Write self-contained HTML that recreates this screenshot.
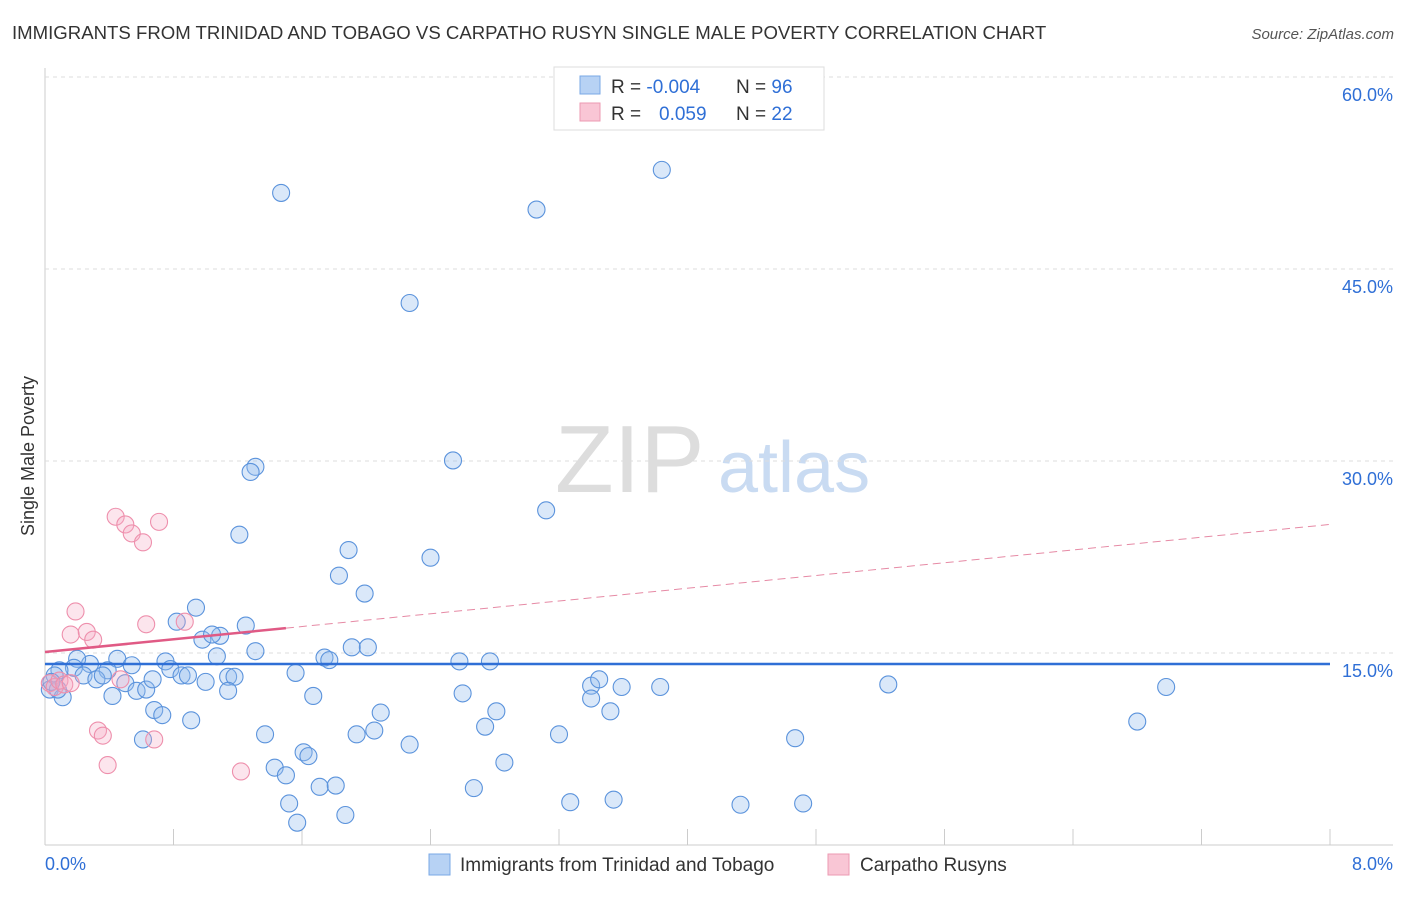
<!DOCTYPE html>
<html><head><meta charset="utf-8"><style>
body{margin:0;background:#fff;font-family:"Liberation Sans",sans-serif}
svg text{font-family:"Liberation Sans",sans-serif}
</style></head><body>
<svg id="c" width="1406" height="892">
<text x="12" y="39" font-size="18.6" fill="#333">IMMIGRANTS FROM TRINIDAD AND TOBAGO VS CARPATHO RUSYN SINGLE MALE POVERTY CORRELATION CHART</text>
<text x="1394" y="39" font-size="15" fill="#555" text-anchor="end" font-style="italic">Source: ZipAtlas.com</text>
<text x="34" y="456" font-size="18" fill="#333" text-anchor="middle" transform="rotate(-90 34 456)">Single Male Poverty</text>
<text x="555" y="492" font-size="96" fill="#ddd" font-family="Liberation Serif">ZIP</text>
<text x="718" y="492" font-size="72" fill="#c9dbf2">atlas</text>
<g id="grid"></g><g id="marks"></g>
<g>
<rect x="554" y="67" width="270" height="63" fill="#fff" stroke="#ddd"/>
<rect x="580" y="76" width="20" height="18" fill="#b7d2f4" stroke="#7aa8e6"/>
<rect x="580" y="103" width="20" height="18" fill="#f9c6d5" stroke="#ec9ab2"/>
<text x="611" y="93" font-size="19" fill="#333">R = <tspan fill="#2f6fd6">-0.004</tspan></text>
<text x="736" y="93" font-size="19" fill="#333">N = <tspan fill="#2f6fd6">96</tspan></text>
<text x="611" y="120" font-size="19" fill="#333">R = <tspan fill="#2f6fd6" x="659">0.059</tspan></text>
<text x="736" y="120" font-size="19" fill="#333">N = <tspan fill="#2f6fd6">22</tspan></text>
</g>
<g>
<rect x="429" y="854" width="21" height="21" fill="#b7d2f4" stroke="#7aa8e6"/>
<text x="460" y="871" font-size="19" fill="#333">Immigrants from Trinidad and Tobago</text>
<rect x="828" y="854" width="21" height="21" fill="#f9c6d5" stroke="#ec9ab2"/>
<text x="860" y="871" font-size="19" fill="#333">Carpatho Rusyns</text>
</g>
<text x="45" y="870" font-size="18" fill="#2f6fd6">0.0%</text>
<text x="1393" y="870" font-size="18" fill="#2f6fd6" text-anchor="end">8.0%</text>
</svg>
<script>
const yTicks=[15,30,45,60];
const yTickLabels=["15.0%","30.0%","45.0%","60.0%"];
const blueX=[1.47,3.06,3.84,2.27,2.54,3.12,1.31,1.28,1.21,2.40,1.89,1.83,1.99,0.94,0.82,1.25,0.98,1.09,1.04,1.31,1.07,1.91,2.01,1.74,1.77,2.58,2.77,1.56,0.75,0.78,0.45,0.54,0.39,0.28,0.20,0.18,0.09,0.06,0.03,0.11,0.24,0.32,0.36,0.50,0.57,0.63,0.67,0.85,0.89,1.00,1.14,1.18,1.14,0.42,0.68,0.73,0.91,0.61,1.37,1.67,2.09,1.94,2.05,2.27,2.60,2.81,2.74,2.86,3.20,3.40,3.45,3.59,3.40,3.52,3.83,5.25,6.98,6.80,4.67,1.61,1.64,1.43,1.50,1.71,1.81,2.67,1.52,1.57,1.87,3.27,3.54,4.33,4.72,0.08,0.04];
const blueY=[51.1,49.8,52.9,42.5,30.2,26.3,29.7,29.3,24.4,22.6,23.2,21.2,19.8,18.7,17.6,17.3,16.2,16.5,16.6,15.3,14.9,15.6,15.6,14.8,14.6,14.5,14.5,13.6,14.5,13.9,14.7,14.2,13.8,14.3,14.7,14.0,13.8,13.4,12.3,11.7,13.4,13.1,13.4,12.8,12.2,12.3,13.1,13.4,13.4,12.9,13.3,13.3,12.2,11.8,10.7,10.3,9.9,8.4,8.8,11.8,10.5,8.8,9.1,8.0,12.0,10.6,9.4,6.6,8.8,12.6,13.1,12.5,11.6,10.6,12.5,12.7,12.5,9.8,8.5,7.4,7.1,6.2,5.6,4.7,4.8,4.6,3.4,1.9,2.5,3.5,3.7,3.3,3.4,12.3,12.9];
const pinkX=[0.44,0.50,0.54,0.61,0.71,0.19,0.16,0.26,0.30,0.63,0.87,0.33,0.36,0.68,0.39,1.22,0.03,0.06,0.09,0.12,0.16,0.47];
const pinkY=[25.8,25.2,24.5,23.8,25.4,18.4,16.6,16.8,16.2,17.4,17.6,9.1,8.7,8.4,6.4,5.9,12.8,12.5,13.0,12.7,12.8,13.1];
const blueTrend=[14.3,14.3];
const pinkTrend=[15.23,25.2];
const NS="http://www.w3.org/2000/svg";
const X0=45,X1=1330,Y0=847,PX=192/15;
const sx=v=>X0+(v/8)*(X1-X0), sy=v=>Y0-v*PX;
function el(t,a,p){const e=document.createElementNS(NS,t);for(const k in a)e.setAttribute(k,a[k]);p.appendChild(e);return e;}
const g=document.getElementById('grid'),m=document.getElementById('marks');
el('line',{x1:45,y1:68,x2:45,y2:845,stroke:'#ccc'},g);
el('line',{x1:45,y1:845,x2:1393,y2:845,stroke:'#ccc'},g);
for(let i=0;i<=10;i++){const x=X0+i*(X1-X0)/10;const t=el('line',{x1:x,y1:829,x2:x,y2:845,stroke:'#ccc'},g);

}
yTicks.forEach((v,i)=>{const y=sy(v)-2;
const l=el('line',{x1:45,y1:y,x2:1393,y2:y,stroke:'#ddd','stroke-dasharray':'4,4'},g);


const t=el('text',{x:1393,y:y+24,'font-size':18,fill:'#2f6fd6','text-anchor':'end'},g);t.textContent=yTickLabels[i];

});
blueX.forEach((v,i)=>{const c=el('circle',{cx:sx(v),cy:sy(blueY[i]),r:8.5,fill:'rgba(150,188,238,0.35)',stroke:'#5b93dc','stroke-width':1.1},m);

});
pinkX.forEach((v,i)=>{const c=el('circle',{cx:sx(v),cy:sy(pinkY[i]),r:8.5,fill:'rgba(245,170,195,0.3)',stroke:'#ee8fac','stroke-width':1.1},m);

});
const bt=el('line',{x1:sx(0),y1:sy(blueTrend[0]),x2:sx(8),y2:sy(blueTrend[1]),stroke:'#2f6fd6','stroke-width':2.5},m);


const pAt=v=>pinkTrend[0]+(pinkTrend[1]-pinkTrend[0])*v/8;
const pd=el('line',{x1:sx(1.5),y1:sy(pAt(1.5)),x2:sx(8),y2:sy(pAt(8)),stroke:'#e68aa5','stroke-width':1,'stroke-dasharray':'8,5'},m);


const ps=el('line',{x1:sx(0),y1:sy(pAt(0)),x2:sx(1.5),y2:sy(pAt(1.5)),stroke:'#e05a85','stroke-width':2.5},m);


</script>
</body></html>
